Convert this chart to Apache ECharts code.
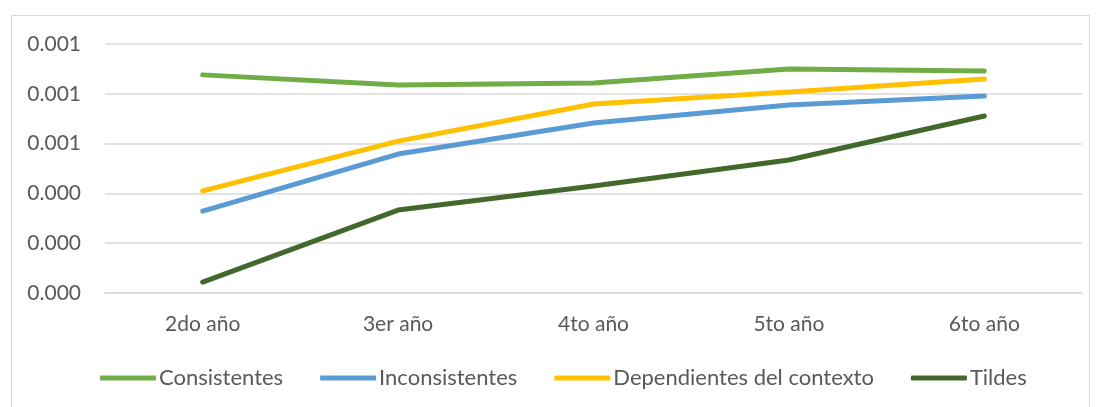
<!DOCTYPE html>
<html><head><meta charset="utf-8">
<script src="https://cdn.jsdelivr.net/npm/echarts@6/dist/echarts.min.js"></script>
<style>html,body{margin:0;padding:0;background:#fff}#c{width:1098px;height:407px}</style>
</head><body><div id="c"></div>
<script>
const categories = ['2do año', '3er año', '4to año', '5to año', '6to año'];
const consistentes = [0.000876, 0.000835, 0.000843, 0.000900, 0.000892];
const inconsistentes = [0.000329, 0.000558, 0.000683, 0.000755, 0.000791];
const dependientes = [0.000410, 0.000610, 0.000759, 0.000807, 0.000859];
const tildes = [0.000044, 0.000333, 0.000430, 0.000534, 0.000711];
const seriesNames = ['Consistentes', 'Inconsistentes', 'Dependientes del contexto', 'Tildes'];
const colors = ['#70AD47', '#5B9BD5', '#FFC000', '#43682B'];
const values = [consistentes, inconsistentes, dependientes, tildes];
const font = 'Lato, "Open Sans", sans-serif';
const chart = echarts.init(document.getElementById('c'));
chart.setOption({
  animation: false,
  textStyle: {fontFamily: font},
  graphic: [{type: 'rect', shape: {x: 11.5, y: 15.5, width: 1078, height: 400}, style: {fill: 'none', stroke: '#d9d9d9', lineWidth: 1}, silent: true}],
  grid: {left: 105, right: 16, top: 44, bottom: 114},
  legend: {
    bottom: 18, left: 100, itemWidth: 56, itemHeight: 5, itemGap: 37, icon: 'roundRect', padding: 0,
    textStyle: {fontSize: 22, color: '#595959', fontFamily: font, padding: [0,0,0,-2]},
    data: seriesNames
  },
  xAxis: {
    type: 'category', data: categories, boundaryGap: true,
    axisLine: {lineStyle: {color: '#d9d9d9', width: 1.5}}, axisTick: {show: false},
    axisLabel: {color: '#595959', fontSize: 21, margin: 21, fontFamily: font}
  },
  yAxis: {
    type: 'value', min: 0, max: 0.001, interval: 0.0002,
    axisLine: {show: false}, axisTick: {show: false},
    splitLine: {lineStyle: {color: '#d9d9d9', width: 1.5}},
    axisLabel: {color: '#595959', fontSize: 21, margin: 24, fontFamily: font, formatter: v => v.toFixed(3)}
  },
  series: seriesNames.map((n, i) => ({
    name: n, type: 'line', data: values[i], showSymbol: false, symbol: 'none',
    itemStyle: {color: colors[i]},
    lineStyle: {color: colors[i], width: 5, cap: 'round', join: 'round'}
  }))
});
</script></body></html>
